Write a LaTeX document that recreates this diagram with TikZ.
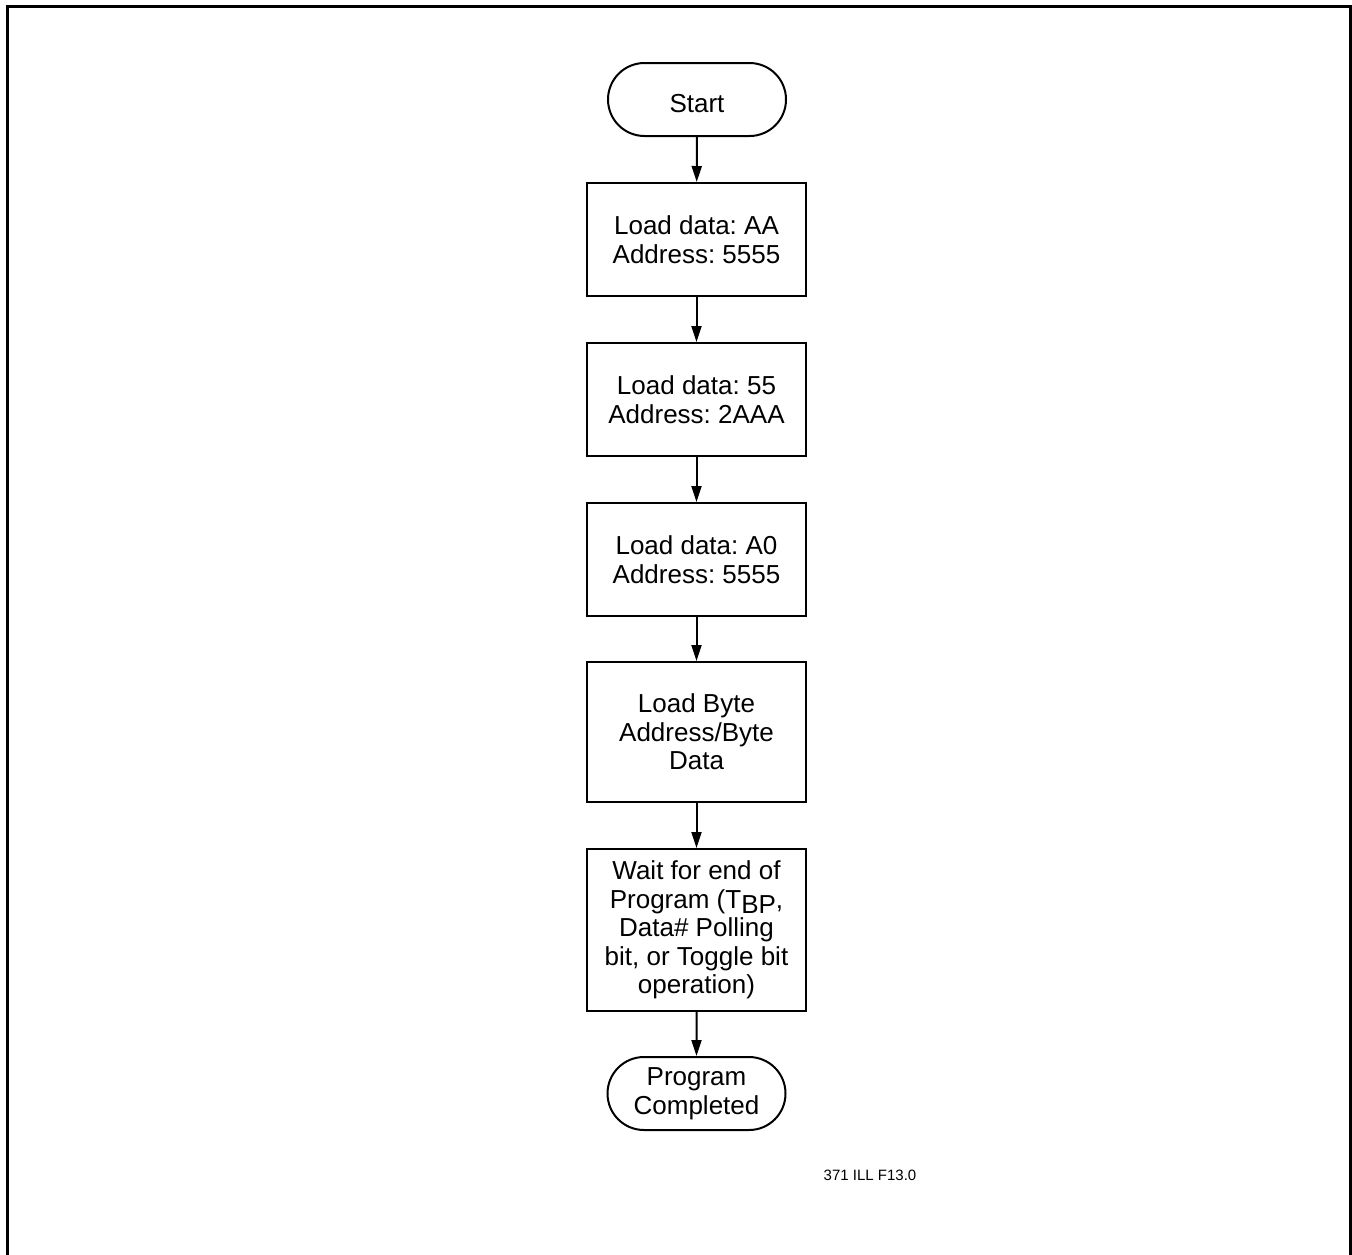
\documentclass[tikz,border=0pt]{standalone}
\usepackage{fontspec}
\setmainfont{Liberation Sans}
\usetikzlibrary{shapes.misc,arrows.meta}
\frenchspacing
\begin{document}
\begin{tikzpicture}[x=1pt,y=-1pt,
  proc/.style={draw,line width=2pt,minimum width=219pt,inner sep=0pt,align=center,font=\fontsize{26}{28.5}\selectfont\frenchspacing},
  term/.style={draw,line width=2pt,rounded rectangle,rounded rectangle arc length=180,minimum width=178pt,minimum height=73pt,inner sep=0pt,align=center,font=\fontsize{26}{28.5}\selectfont},
  flow/.style={line width=2pt,-{Triangle[length=16pt,width=10pt]}}]
\useasboundingbox (0,0) rectangle (1352,1254);
\draw[line width=3pt] (7,1256) -- (7,6) -- (1350,6) -- (1350,1256);
\node[term,text height=25pt,text depth=0pt] (start) at (697,99.5) {Start};
\node[proc,minimum height=113pt] (b1) at (696.5,239.5) {Load data: AA\\Address: 5555};
\node[proc,minimum height=113pt] (b2) at (696.5,399.5) {Load data: 55\\Address: 2AAA};
\node[proc,minimum height=113pt] (b3) at (696.5,559.5) {Load data: A0\\Address: 5555};
\node[proc,minimum height=140pt] (b4) at (696.5,732) {Load Byte\\Address/Byte\\Data};
\node[proc,minimum height=162pt] (b5) at (696.5,930) {Wait for end of\\Program (T\raisebox{-5pt}{BP},\\Data\# Polling\\bit, or Toggle bit\\operation)};
\node[term] (end) at (696.5,1093.5) {Program\\Completed};
\node[font=\fontsize{15}{17}\selectfont,inner sep=0pt] (lbl) at (870,1175) {371 ILL F13.0};
\draw[flow] (start) -- (b1);
\draw[flow] (b1) -- (b2);
\draw[flow] (b2) -- (b3);
\draw[flow] (b3) -- (b4);
\draw[flow] (b4) -- (b5);
\draw[flow] (b5) -- (end);
\end{tikzpicture}
\end{document}
